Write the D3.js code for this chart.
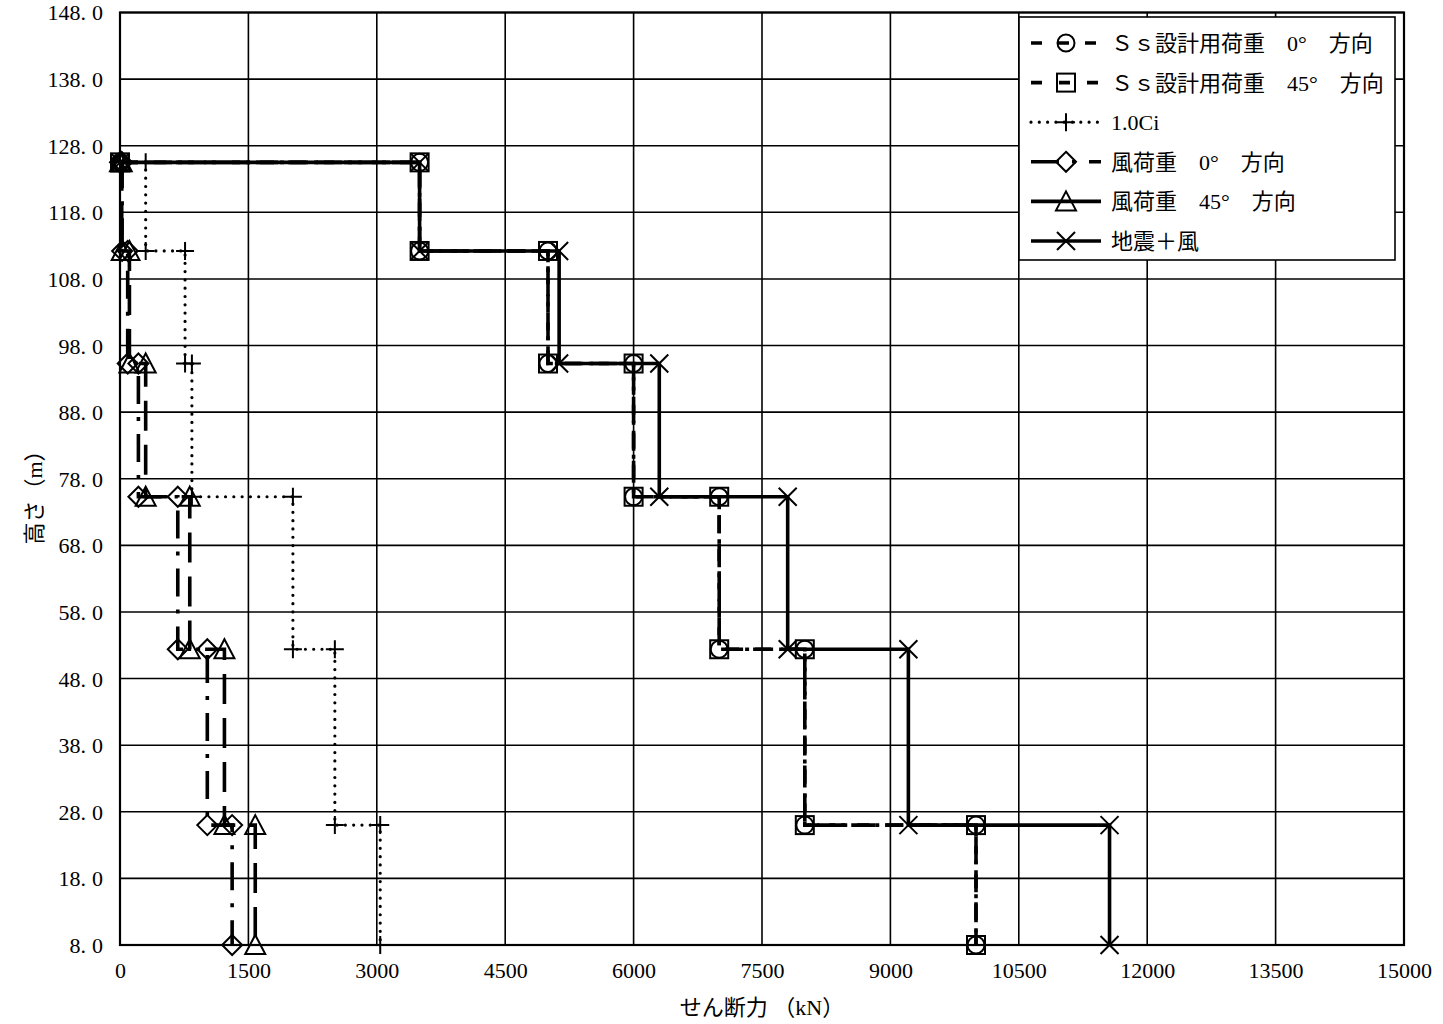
<!DOCTYPE html>
<html>
<head>
<meta charset="utf-8">
<script src="https://cdn.jsdelivr.net/npm/d3@7/dist/d3.min.js"></script>
<style>
  html, body { margin: 0; padding: 0; background: #fff; }
  svg { display: block; }
</style>
</head>
<body>
<svg id="chart" width="1443" height="1024"></svg>
<script>
// Floor levels (m): top of building down to base
const heights = [125.5, 112.2, 95.3, 75.3, 52.4, 26.0, 8.0];

// Story shear (kN) for each story, top story first
const shearSs0   = [3500, 5000, 6000, 7000, 8000, 10000];
const shearSs45  = [3500, 5000, 6000, 7000, 8000, 10000];
const shearCi    = [300, 760, 840, 2020, 2510, 3040];
const shearWind0 = [25, 90, 215, 675, 1020, 1310];
const shearWind45 = [20, 110, 300, 815, 1220, 1580];
const shearQuakeWind = [3500, 5130, 6300, 7800, 9210, 11560];

const seriesNames = [
  "Ｓｓ設計用荷重　0°　方向",
  "Ｓｓ設計用荷重　45°　方向",
  "1.0Ci",
  "風荷重　0°　方向",
  "風荷重　45°　方向",
  "地震＋風"
];

const xTicks = [0, 1500, 3000, 4500, 6000, 7500, 9000, 10500, 12000, 13500, 15000];
const yTicks = [8, 18, 28, 38, 48, 58, 68, 78, 88, 98, 108, 118, 128, 138, 148];

const xTitle = "せん断力 （kN）";
const yTitle = "高さ（m）";

const svg = d3.select("#chart");
const plotLeft = 120, plotRight = 1404, plotTop = 12.5, plotBottom = 945;

const x = d3.scaleLinear().domain([0, 15000]).range([plotLeft, plotRight]);
const y = d3.scaleLinear().domain([8, 148]).range([plotBottom, plotTop]);

const serifFont = "'Liberation Serif', 'DejaVu Serif', serif";
const cjkFont = "'Liberation Serif', 'Noto Sans CJK JP', sans-serif";

// grid
const grid = svg.append("g");
grid.selectAll("line.v").data(xTicks).join("line").attr("class", "v")
  .attr("x1", d => x(d)).attr("x2", d => x(d))
  .attr("y1", plotTop).attr("y2", plotBottom)
  .attr("stroke", "#000").attr("stroke-width", 1.6);
grid.selectAll("line.h").data(yTicks).join("line").attr("class", "h")
  .attr("y1", d => y(d)).attr("y2", d => y(d))
  .attr("x1", plotLeft).attr("x2", plotRight)
  .attr("stroke", "#000").attr("stroke-width", 1.6);

// plot frame
svg.append("rect")
  .attr("x", plotLeft).attr("y", plotTop)
  .attr("width", plotRight - plotLeft).attr("height", plotBottom - plotTop)
  .attr("fill", "none").attr("stroke", "#000").attr("stroke-width", 2.2);

// axes (labels only, no tick marks)
const xAxis = d3.axisBottom(x).tickValues(xTicks).tickSize(0).tickPadding(0)
  .tickFormat(d3.format("d"));
const gx = svg.append("g").attr("transform", `translate(0,${plotBottom})`).call(xAxis);
gx.select(".domain").remove();
gx.selectAll("text")
  .attr("y", 33).attr("dy", 0)
  .attr("font-family", serifFont).attr("font-size", 22).attr("fill", "#000");

const yAxis = d3.axisLeft(y).tickValues(yTicks).tickSize(0).tickPadding(0);
const gy = svg.append("g").attr("transform", `translate(${plotLeft},0)`).call(yAxis);
gy.select(".domain").remove();
gy.selectAll("text").each(function (d) {
  const t = d3.select(this);
  t.text(null)
    .attr("x", -17).attr("dy", "0.34em")
    .attr("font-family", serifFont).attr("font-size", 22).attr("fill", "#000");
  t.append("tspan").text(d.toFixed(0) + ".");
  t.append("tspan").attr("dx", 6).text("0");
});

// axis titles
svg.append("text")
  .attr("x", 762).attr("y", 1015)
  .attr("text-anchor", "middle")
  .attr("font-family", cjkFont).attr("font-size", 22)
  .text(xTitle);
svg.append("text")
  .attr("transform", "translate(42,492) rotate(-90)")
  .attr("text-anchor", "middle")
  .attr("font-family", cjkFont).attr("font-size", 22)
  .text(yTitle);

// marker shapes
function drawMarker(g, kind, cx, cy) {
  const s = 9;
  const apply = sel => sel.attr("stroke", "#000").attr("stroke-width", 2).attr("fill", "none");
  if (kind === "circle") {
    apply(g.append("circle").attr("cx", cx).attr("cy", cy).attr("r", 8.5));
  } else if (kind === "square") {
    apply(g.append("rect").attr("x", cx - s).attr("y", cy - s).attr("width", 2 * s).attr("height", 2 * s));
  } else if (kind === "plus") {
    apply(g.append("path").attr("d", `M${cx - s},${cy}H${cx + s}M${cx},${cy - s}V${cy + s}`));
  } else if (kind === "diamond") {
    apply(g.append("path").attr("d", `M${cx},${cy - 10}L${cx + 10},${cy}L${cx},${cy + 10}L${cx - 10},${cy}Z`));
  } else if (kind === "triangle") {
    apply(g.append("path").attr("d", `M${cx},${cy - 10}L${cx + 10},${cy + 9}L${cx - 10},${cy + 9}Z`));
  } else if (kind === "cross") {
    apply(g.append("path").attr("d", `M${cx - s},${cy - s}L${cx + s},${cy + s}M${cx + s},${cy - s}L${cx - s},${cy + s}`));
  }
}

const seriesStyle = [
  { values: shearSs0, marker: "circle", dash: "18,10", legendDash: "11,16", width: 3.6, cap: "butt" },
  { values: shearSs45, marker: "square", dash: "18,6,4,6", legendDash: "11,17", width: 3.6, cap: "butt" },
  { values: shearCi, marker: "plus", dash: "0,8.3", legendDash: "0,8.3", width: 3.2, cap: "round" },
  { values: shearWind0, marker: "diamond", dash: "28,13,4,13", legendDash: "28,13,4,13", width: 3.6, cap: "butt" },
  { values: shearWind45, marker: "triangle", dash: "30,14", legendDash: null, width: 3.6, cap: "butt" },
  { values: shearQuakeWind, marker: "cross", dash: null, legendDash: null, width: 3.6, cap: "butt" }
];

// staircase through each story: horizontal at floor level, vertical down the story
function stepPoints(values) {
  const pts = [[0, heights[0]]];
  values.forEach((v, i) => {
    pts.push([v, heights[i]]);
    pts.push([v, heights[i + 1]]);
  });
  return pts;
}

const line = d3.line().x(d => x(d[0])).y(d => y(d[1]));
const plot = svg.append("g");

seriesStyle.forEach(s => {
  const pts = stepPoints(s.values);
  const g = plot.append("g");
  g.append("path")
    .attr("d", line(pts))
    .attr("fill", "none").attr("stroke", "#000")
    .attr("stroke-width", s.width)
    .attr("stroke-linecap", s.cap)
    .attr("stroke-dasharray", s.dash);
  pts.forEach(p => drawMarker(g, s.marker, x(p[0]), y(p[1])));
});

// legend
const lg = svg.append("g");
lg.append("rect")
  .attr("x", 1019).attr("y", 17).attr("width", 376).attr("height", 243)
  .attr("fill", "#fff").attr("stroke", "#000").attr("stroke-width", 1.6);

seriesStyle.forEach((s, i) => {
  const cy = 43 + i * 39.6;
  lg.append("line")
    .attr("x1", 1031).attr("x2", 1101).attr("y1", cy).attr("y2", cy)
    .attr("stroke", "#000").attr("stroke-width", s.width)
    .attr("stroke-linecap", s.cap)
    .attr("stroke-dasharray", s.legendDash);
  drawMarker(lg, s.marker, 1066, cy);
  lg.append("text")
    .attr("x", 1111).attr("y", cy).attr("dy", "0.36em")
    .attr("font-family", cjkFont).attr("font-size", 22)
    .text(seriesNames[i]);
});
</script>
</body>
</html>
